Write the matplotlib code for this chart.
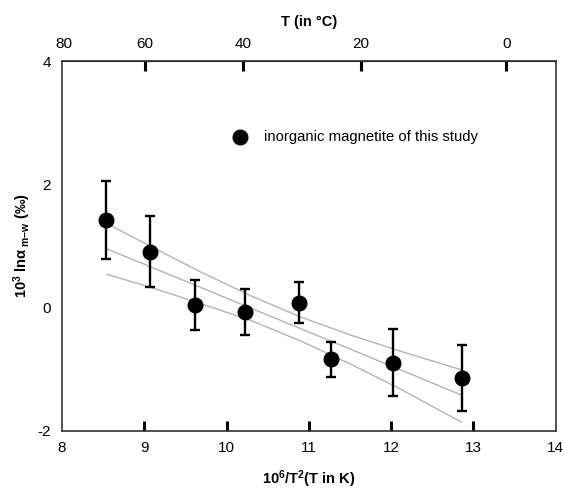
import numpy as np
import matplotlib
matplotlib.use("Agg")
import matplotlib.pyplot as plt

plt.rcParams['font.family'] = ['Liberation Sans', 'DejaVu Sans']
plt.rcParams['mathtext.fontset'] = 'custom'
plt.rcParams['mathtext.rm'] = 'Liberation Sans:bold'
plt.rcParams['mathtext.it'] = 'Liberation Sans:bold'
plt.rcParams['mathtext.bf'] = 'Liberation Sans:bold'
plt.rcParams['mathtext.default'] = 'rm'
plt.rcParams['axes.unicode_minus'] = False

# measured points (10^6/T^2, 10^3 ln alpha) with error bars
inv_t2 = [8.535, 9.074, 9.617, 10.225, 10.881, 11.274, 12.021, 12.863]
ln_alpha = [1.42, 0.91, 0.04, -0.07, 0.08, -0.84, -0.89, -1.14]
err = [0.63, 0.57, 0.41, 0.37, 0.33, 0.28, 0.54, 0.54]

# regression line and band
line_x = [8.55, 9.1, 9.7, 10.3, 10.9, 11.5, 12.1, 12.86]
fit_y = [0.95, 0.65, 0.32, -0.01, -0.34, -0.67, -1.00, -1.42]
upper_y = [1.36, 0.98, 0.57, 0.19, -0.15, -0.44, -0.70, -1.01]
lower_y = [0.54, 0.32, 0.06, -0.21, -0.54, -0.91, -1.31, -1.86]

top_ticks = [80, 60, 40, 20, 0]


def to_celsius(x):
    x = np.asarray(x, dtype=float)
    return 1000.0 / np.sqrt(np.clip(x, 1e-6, None)) - 273.15


def to_inv_t2(t):
    t = np.asarray(t, dtype=float)
    return 1e6 / (t + 273.15) ** 2


fig = plt.figure(figsize=(5.64, 4.92), dpi=100)
ax = fig.add_axes([0.1099, 0.124, 0.8752, 0.752])

grey = '#b4b4b4'
ax.plot(line_x, upper_y, color=grey, lw=1.0, zorder=1)
ax.plot(line_x, fit_y, color=grey, lw=1.0, zorder=1)
ax.plot(line_x, lower_y, color=grey, lw=1.0, zorder=1)

ax.errorbar(inv_t2, ln_alpha, yerr=err, fmt='o', color='black',
            markersize=10.5, ecolor='black', elinewidth=1.7,
            capsize=3.5, capthick=1.7, zorder=3)

# legend drawn inside the plot
ax.plot([10.16], [2.77], 'o', color='black', markersize=10.5)
ax.text(10.45, 2.77, 'inorganic magnetite of this study', fontsize=10.7,
        va='center', ha='left')

ax.set_xlim(8, 14)
ax.set_ylim(-2, 4)
ax.set_xticks([8, 9, 10, 11, 12, 13, 14])
ax.set_yticks([-2, 0, 2, 4])
ax.tick_params(axis='x', direction='in', length=7, width=2.2, pad=7,
               labelsize=11)
ax.tick_params(axis='y', length=0, pad=8, labelsize=11)
for s in ax.spines.values():
    s.set_linewidth(1.2)
    s.set_color('#333333')

ax.set_xlabel(r'10$^{6}$/T$^{2}$(T in K)', fontsize=10.5,
              fontweight='bold', labelpad=10)
ax.set_ylabel(r'10$^{3}$ ln$\alpha_{\ m\mathrm{-}w}$ (‰)', fontsize=10.5,
              fontweight='bold', labelpad=3)

sec = ax.secondary_xaxis('top', functions=(to_celsius, to_inv_t2))
sec.set_xticks(top_ticks)
sec.tick_params(direction='in', length=7, width=2.2, pad=7, labelsize=11)
sec.set_xlabel('T (in °C)', fontsize=10.5, fontweight='bold', labelpad=8)

# edge ticks sit on the frame in the original, hide them
fig.canvas.draw()
xt = ax.xaxis.get_major_ticks()
for t in (xt[0], xt[-1]):
    t.tick1line.set_visible(False)
    t.tick2line.set_visible(False)
st = sec.xaxis.get_major_ticks()
st[0].tick1line.set_visible(False)
st[0].tick2line.set_visible(False)

fig.savefig('out.png', dpi=100)
